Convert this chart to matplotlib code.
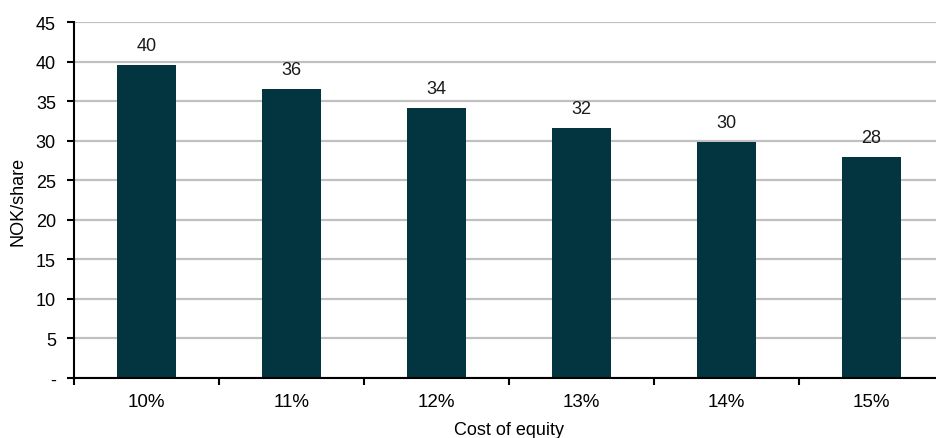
import matplotlib
matplotlib.use("Agg")
import matplotlib.pyplot as plt
import numpy as np

categories = ["10%", "11%", "12%", "13%", "14%", "15%"]
values = [39.6, 36.5, 34.2, 31.6, 29.9, 28.0]
labels = ["40", "36", "34", "32", "30", "28"]
yticks = [0, 5, 10, 15, 20, 25, 30, 35, 40, 45]
yticklabels = ["-", "5", "10", "15", "20", "25", "30", "35", "40", "45"]

plt.rcParams['font.family'] = ['Liberation Sans', 'DejaVu Sans']
plt.rcParams['font.size'] = 13

fig = plt.figure(figsize=(9.36, 4.39), dpi=100)
ax = fig.add_axes([74/936, 60/439, 870/936, 355.7/439])

x = np.arange(len(categories))
bars = ax.bar(x, values, width=0.41, color="#02353F", zorder=3)
for xi, v, lab in zip(x, values, labels):
    ax.annotate(lab, (xi, v), xytext=(0, 8), textcoords="offset points",
                ha="center", va="bottom", fontsize=13, color="#1a1a1a")

ax.set_xlim(-0.5, len(categories) - 0.5)
ax.set_ylim(0, 45)
ax.set_yticks(yticks)
ax.set_yticklabels(yticklabels)
ax.set_xticks(x)
ax.set_xticklabels(categories)
ax.set_xticks(np.arange(-0.5, len(categories), 1.0), minor=True)
ax.tick_params(axis='x', which='major', length=0, pad=11, labelsize=13.5)
ax.tick_params(axis='x', which='minor', length=5, width=1.5, direction='out')
ax.tick_params(axis='y', which='major', length=5, width=1.5, pad=8, labelsize=13)

ax.grid(axis='y', color="#c0c0c0", linewidth=1.6, zorder=0)
ax.set_axisbelow(True)
for s in ['top', 'right']:
    ax.spines[s].set_visible(False)
for s in ['left', 'bottom']:
    ax.spines[s].set_linewidth(1.5)
    ax.spines[s].set_zorder(4)

ax.set_ylabel("NOK/share", fontsize=13, labelpad=7)
ax.set_xlabel("Cost of equity", fontsize=13, labelpad=8)

fig.savefig("out.png", dpi=100)
